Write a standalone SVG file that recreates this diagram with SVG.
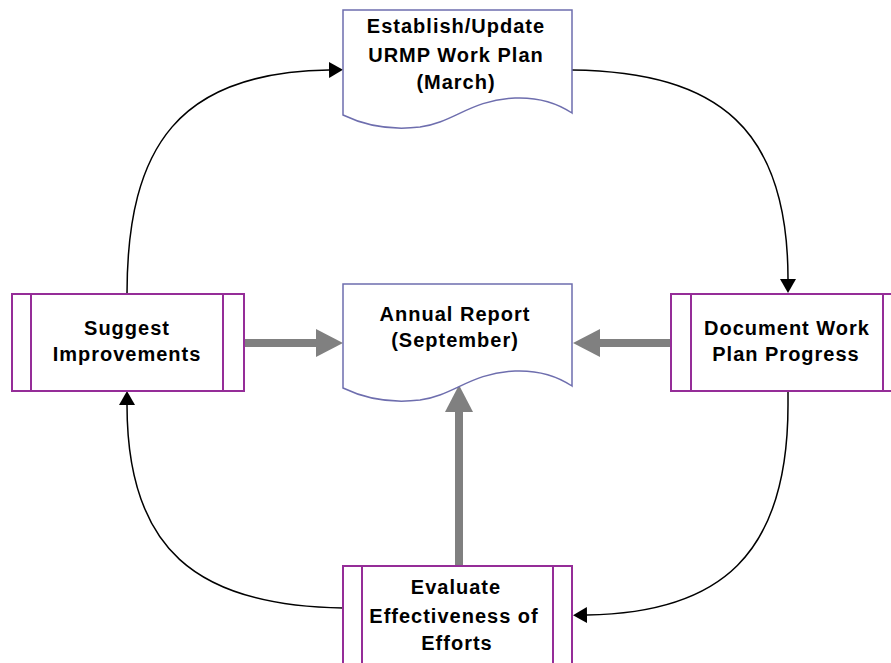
<svg xmlns="http://www.w3.org/2000/svg" width="891" height="663" viewBox="0 0 891 663">
<style>
.doc{fill:#fff;stroke:#6e6eae;stroke-width:1.5}
.proc{fill:#fff;stroke:#952d98;stroke-width:2}
.lbl{font-family:"Liberation Sans",Arial,sans-serif;font-weight:bold;font-size:20px;letter-spacing:1px;fill:#000;text-anchor:middle}
.flow{fill:none;stroke:#000;stroke-width:1.5}
.feed{fill:none;stroke:#808080;stroke-width:8;stroke-linecap:round}
</style>
<defs>
<marker id="bh" markerUnits="userSpaceOnUse" viewBox="0 0 14 16" markerWidth="14" markerHeight="16" refX="0" refY="8" orient="auto">
<path d="M0,0 L14,8 L0,16 z" fill="#000"/>
</marker>
<marker id="gh" markerUnits="userSpaceOnUse" viewBox="0 0 28 28" markerWidth="28" markerHeight="28" refX="0" refY="14" orient="auto">
<path d="M0,0 L27,14 L0,28 z" fill="#808080"/>
</marker>
</defs>
<rect width="891" height="663" fill="#fff"/>

<g id="connectors">
<path class="flow" d="M572,70 C720,72 788,130 788,279" marker-end="url(#bh)"/>
<path class="flow" d="M788,391 L788,405 C788,555 720,613 587,615" marker-end="url(#bh)"/>
<path class="flow" d="M343,608 C195,606 127,548 127,405" marker-end="url(#bh)"/>
<path class="flow" d="M127,294 C127,145 180,72 329,70" marker-end="url(#bh)"/>
<path class="feed" d="M241,343 H316" marker-end="url(#gh)"/>
<path class="feed" d="M673,343 H600" marker-end="url(#gh)"/>
<path class="feed" d="M459,568 V412" marker-end="url(#gh)"/>
</g>

<g id="workplan">
<path class="doc" d="M343,10 H572 V113 C560,105 540,97 515,98 C470,100 455,122 420,127 C395,130 370,128 343,115 Z"/>
<text class="lbl" x="456" y="33">Establish/Update</text>
<text class="lbl" x="456" y="62">URMP Work Plan</text>
<text class="lbl" x="456" y="89">(March)</text>
</g>

<g id="annual">
<path class="doc" d="M343,284 H572 V386 C560,378 540,370 515,371 C470,373 455,395 420,400 C395,403 370,401 343,388 Z"/>
<text class="lbl" x="455" y="321">Annual Report</text>
<text class="lbl" x="455" y="347">(September)</text>
</g>

<g id="suggest">
<rect class="proc" x="12" y="294" width="232" height="97"/>
<line class="proc" x1="31" y1="294" x2="31" y2="391"/>
<line class="proc" x1="223" y1="294" x2="223" y2="391"/>
<text class="lbl" x="127" y="335">Suggest</text>
<text class="lbl" x="127" y="361">Improvements</text>
</g>

<g id="document">
<rect class="proc" x="671" y="294" width="232" height="97"/>
<line class="proc" x1="691" y1="294" x2="691" y2="391"/>
<line class="proc" x1="883" y1="294" x2="883" y2="391"/>
<text class="lbl" x="787" y="335">Document Work</text>
<text class="lbl" x="786" y="361">Plan Progress</text>
</g>

<g id="evaluate">
<rect class="proc" x="343" y="566" width="229" height="110"/>
<line class="proc" x1="362" y1="566" x2="362" y2="676"/>
<line class="proc" x1="553" y1="566" x2="553" y2="676"/>
<text class="lbl" x="456" y="594">Evaluate</text>
<text class="lbl" x="454" y="623">Effectiveness of</text>
<text class="lbl" x="457" y="650">Efforts</text>
</g>
</svg>
